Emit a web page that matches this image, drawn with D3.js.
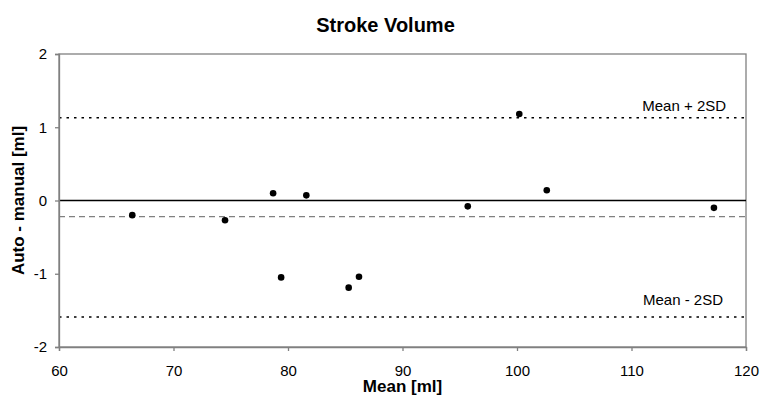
<!DOCTYPE html>
<html>
<head>
<meta charset="utf-8">
<script src="https://cdn.jsdelivr.net/npm/d3@7"></script>
<style>
  body { margin: 0; background: #fff; }
  svg { font-family: "Liberation Sans", Arial, sans-serif; }
</style>
</head>
<body>
<svg width="760" height="395"></svg>
<script>
// Bland-Altman data: mean of methods vs difference (auto - manual)
const meanValues = [66.4, 74.5, 78.7, 79.4, 81.6, 85.3, 86.2, 95.7, 100.2, 102.6, 117.2];
const diffValues = [-0.20, -0.27, 0.10, -1.05, 0.07, -1.19, -1.04, -0.08, 1.18, 0.14, -0.10];
const xTicks = [60, 70, 80, 90, 100, 110, 120];
const yTicks = [-2, -1, 0, 1, 2];
const meanDiff = -0.22;
const upperLimit = 1.13;
const lowerLimit = -1.59;

const svg = d3.select("svg");
const margin = { top: 54, right: 14, bottom: 48, left: 59 };
const width = 760 - margin.left - margin.right;
const height = 395 - margin.top - margin.bottom;

const x = d3.scaleLinear().domain([60, 120]).range([0, width]);
const y = d3.scaleLinear().domain([-2, 2]).range([height, 0]);

const g = svg.append("g").attr("transform", `translate(${margin.left},${margin.top})`);

// frame
g.append("rect")
    .attr("width", width)
    .attr("height", height)
    .attr("fill", "none")
    .attr("stroke", "#808080")
    .attr("stroke-width", 1.3);

// reference lines
g.append("line")
    .attr("x1", 0).attr("x2", width)
    .attr("y1", y(0)).attr("y2", y(0))
    .attr("stroke", "#000").attr("stroke-width", 1.3);

g.append("line")
    .attr("x1", 0).attr("x2", width)
    .attr("y1", y(meanDiff)).attr("y2", y(meanDiff))
    .attr("stroke", "#808080").attr("stroke-width", 1.2)
    .attr("stroke-dasharray", "6,4");

[upperLimit, lowerLimit].forEach(v => {
    g.append("line")
        .attr("x1", 0).attr("x2", width)
        .attr("y1", y(v)).attr("y2", y(v))
        .attr("stroke", "#000").attr("stroke-width", 1.5)
        .attr("stroke-dasharray", "2.5,5");
});

g.append("text")
    .attr("x", x(114.6))
    .attr("y", y(upperLimit) - 6.5)
    .attr("text-anchor", "middle")
    .attr("font-size", 15)
    .text("Mean + 2SD");

g.append("text")
    .attr("x", x(114.5))
    .attr("y", y(lowerLimit) - 12)
    .attr("text-anchor", "middle")
    .attr("font-size", 15)
    .text("Mean - 2SD");

// axes
const xAxis = g.append("g")
    .attr("transform", `translate(0,${height})`)
    .call(d3.axisBottom(x).tickValues(xTicks).tickSize(4).tickPadding(14)
        .tickFormat(d => String(d)));

const yAxis = g.append("g")
    .call(d3.axisLeft(y).tickValues(yTicks).tickSize(4).tickPadding(8)
        .tickFormat(d => String(d)));

[xAxis, yAxis].forEach(a => {
    a.select(".domain").attr("stroke", "#808080").attr("stroke-width", 1.3);
    a.selectAll(".tick line").attr("stroke", "#808080").attr("stroke-width", 1.3);
    a.selectAll(".tick text")
        .attr("font-size", 15)
        .attr("fill", "#000")
        .attr("font-family", "Liberation Sans, Arial, sans-serif");
});

// points
g.selectAll(".pt")
    .data(meanValues)
    .enter()
    .append("circle")
    .attr("class", "pt")
    .attr("cx", d => x(d))
    .attr("cy", (d, i) => y(diffValues[i]))
    .attr("r", 3.3)
    .attr("fill", "#000");

// titles
svg.append("text")
    .attr("x", 385.5)
    .attr("y", 32)
    .attr("text-anchor", "middle")
    .attr("font-size", 20)
    .attr("font-weight", "bold")
    .text("Stroke Volume");

svg.append("text")
    .attr("x", margin.left + width / 2)
    .attr("y", 392)
    .attr("text-anchor", "middle")
    .attr("font-size", 17)
    .attr("font-weight", "bold")
    .text("Mean [ml]");

svg.append("text")
    .attr("transform", `translate(24,${margin.top + height / 2}) rotate(-90)`)
    .attr("text-anchor", "middle")
    .attr("font-size", 17)
    .attr("font-weight", "bold")
    .text("Auto - manual [ml]");
</script>
</body>
</html>
